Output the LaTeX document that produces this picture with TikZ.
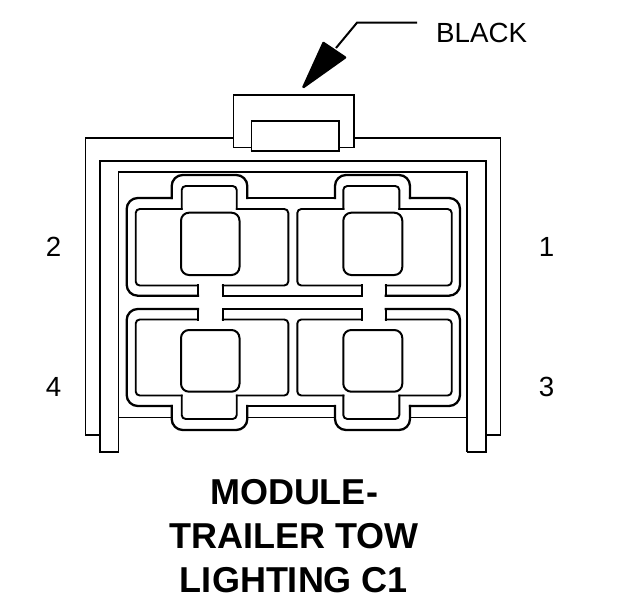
\documentclass[tikz,border=0pt]{standalone}
\usepackage{fontspec}
\setmainfont{Liberation Sans}
\tikzset{
  thinline/.style={draw=black,line width=1.6pt,line join=miter},
  midline/.style={draw=black,line width=2pt,line join=miter},
  contour/.style={draw=black,line width=2.3pt,line cap=rect,rounded corners=11pt},
  flatcontour/.style={draw=black,line width=2.3pt,line cap=rect},
  room/.style={draw=black,line width=1.9pt,line cap=rect,rounded corners=4pt},
  flatroom/.style={draw=black,line width=1.9pt,line cap=rect},
  terminal/.style={draw=black,line width=2pt,rounded corners=8pt},
  pinlabel/.style={inner sep=0pt,anchor=base,font=\fontsize{27.7}{28}\selectfont},
  titlelabel/.style={inner sep=0pt,anchor=base,font=\fontsize{36}{36}\selectfont\bfseries},
}
\begin{document}
\begin{tikzpicture}[x=1pt,y=-1pt]
\useasboundingbox (0,0) rectangle (624,600);
\fill[white] (0,0) rectangle (624,600);
% housing
\draw[thinline] (233.5,138) -- (85.5,138) -- (85.5,435) -- (99,435);
\draw[thinline] (354,138) -- (500.5,138) -- (500.5,435) -- (486,435);
\draw[midline] (118.5,451.5) -- (99.5,451.5) -- (99.5,161) -- (486,161) -- (486,451.5) -- (467,451.5);
\draw[thinline] (118.5,452.3) -- (118.5,172) -- (467,172) -- (467,452.3);
% tab
\draw[thinline] (251.5,147.5) -- (233.5,147.5) -- (233.5,95) -- (354,95) -- (354,147.5) -- (339,147.5);
\draw[thinline] (251.5,151) -- (251.5,121) -- (339,121) -- (339,151);
\draw[midline] (250.7,151) -- (339.8,151);
% lines on the frame
\draw[thinline] (118.5,417.5) -- (172,417.5);
\draw[thinline] (247,417.5) -- (335,417.5);
\draw[thinline] (410,417.5) -- (467,417.5);
% upper contour
\draw[flatcontour] (198,285) -- (198,295.7);
\draw[contour] (198,295.7) -- (126.7,295.7) -- (126.7,198) -- (171.7,198);
\draw[contour] (171.7,198) -- (171.7,175) -- (247.3,175) -- (247.3,198);
\draw[flatcontour] (247.3,198) -- (335,198);
\draw[contour] (335,198) -- (335,175) -- (410,175) -- (410,198);
\draw[contour] (410,198) -- (460,198) -- (460,295.7) -- (385.7,295.7);
\draw[flatcontour] (385.7,295.7) -- (385.7,285);
\draw[flatcontour] (222.7,285) -- (222.7,295.7) -- (361.7,295.7) -- (361.7,285);
% lower contour
\draw[flatcontour] (198,320) -- (198,309);
\draw[contour] (198,309) -- (126.7,309) -- (126.7,406) -- (171.7,406);
\draw[contour] (171.7,406) -- (171.7,430) -- (247.3,430) -- (247.3,406);
\draw[flatcontour] (247.3,406) -- (335,406);
\draw[contour] (335,406) -- (335,430) -- (410,430) -- (410,406);
\draw[contour] (410,406) -- (460,406) -- (460,309) -- (385.7,309);
\draw[flatcontour] (385.7,309) -- (385.7,320);
\draw[flatcontour] (222.7,320) -- (222.7,309) -- (361.7,309) -- (361.7,320);
% upper rooms
\draw[room] (198,285.5) -- (135.7,285.5) -- (135.7,209) -- (181.7,209);
\draw[room] (181.7,209) -- (181.7,186) -- (236.7,186) -- (236.7,209);
\draw[room] (236.7,209) -- (288.3,209) -- (288.3,285.5) -- (222.7,285.5);
\draw[room] (361.7,285.5) -- (297.3,285.5) -- (297.3,209) -- (343.3,209);
\draw[room] (343.3,209) -- (343.3,186) -- (399.3,186) -- (399.3,209);
\draw[room] (399.3,209) -- (451.7,209) -- (451.7,285.5) -- (385.7,285.5);
% lower rooms
\draw[room] (198,319.5) -- (135.7,319.5) -- (135.7,395.5) -- (181.7,395.5);
\draw[room] (181.7,395.5) -- (181.7,419) -- (236.7,419) -- (236.7,395.5);
\draw[room] (236.7,395.5) -- (288.3,395.5) -- (288.3,319.5) -- (222.7,319.5);
\draw[room] (361.7,319.5) -- (297.3,319.5) -- (297.3,395.5) -- (343.3,395.5);
\draw[room] (343.3,395.5) -- (343.3,419) -- (399.3,419) -- (399.3,395.5);
\draw[room] (399.3,395.5) -- (451.7,395.5) -- (451.7,319.5) -- (385.7,319.5);
% terminals
\draw[terminal,fill=white] (181,212.7) rectangle (239.5,275);
\draw[terminal,fill=white] (343.3,212.7) rectangle (402.3,275);
\draw[terminal,fill=white] (181,330) rectangle (239.5,391.7);
\draw[terminal,fill=white] (343.3,330) rectangle (402.3,391.7);
% leader
\coordinate (leaderend) at (417,22.7);
\coordinate (leaderbend) at (357,22.7);
\coordinate (leadertip) at (336,48);
\draw[thinline,line width=2pt] (leaderend) -- (leaderbend) -- (leadertip);
\fill[black,draw=black,line width=2.5pt,line join=round] (303.5,87) -- (323.5,43) -- (345,57.5) -- cycle;
% labels
\node[pinlabel,anchor=base west] (black) at (436,42.5) {BLACK};
\node[pinlabel] (pintwo) at (53.5,256) {2};
\node[pinlabel] (pinone) at (546.5,256) {1};
\node[pinlabel] (pinfour) at (53.5,396.5) {4};
\node[pinlabel] (pinthree) at (546.5,396.5) {3};
\node[titlelabel] (titlea) at (294,504.5) {MODULE-};
\node[titlelabel] (titleb) at (294,548.5) {TRAILER TOW};
\node[titlelabel] (titlec) at (294,592.5) {LIGHTING C1};
\end{tikzpicture}
\end{document}
